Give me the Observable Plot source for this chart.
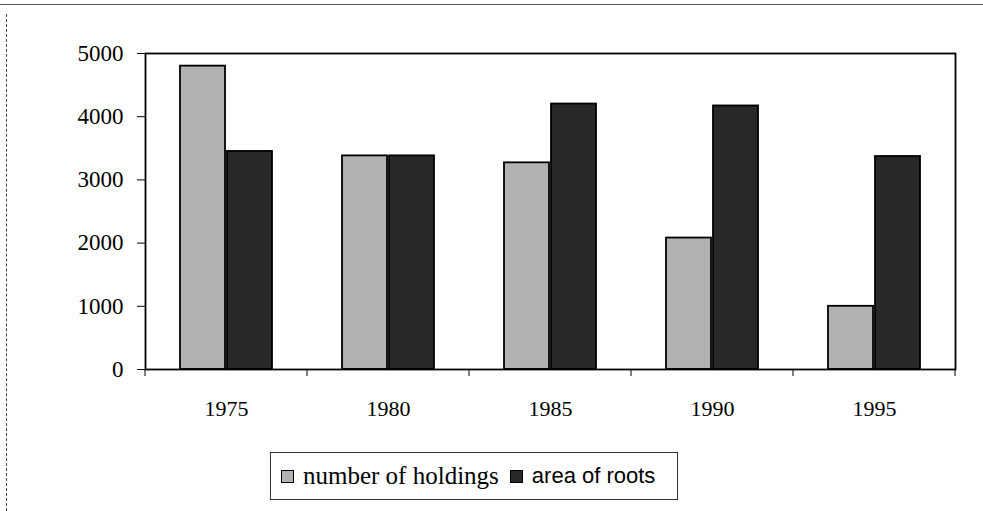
<!DOCTYPE html>
<html>
<head>
<meta charset="utf-8">
<script src="https://cdn.jsdelivr.net/npm/d3@7"></script>
<script src="https://cdn.jsdelivr.net/npm/@observablehq/plot@0.6"></script>
<style>
  html, body { margin: 0; padding: 0; background: #fff; }
  #wrap { position: relative; width: 983px; height: 511px; overflow: hidden; background: #fff; }
  #topline { position: absolute; left: 0; top: 4px; width: 983px; height: 0; border-top: 1.5px solid #555; }
  #leftline { position: absolute; left: 6px; top: 14px; width: 0; height: 497px; border-left: 1.5px dashed #444; }
  #chart { position: absolute; left: 0; top: 0; }
  #legend { position: absolute; left: 270px; top: 452px; width: 408px; height: 48px; border: 1px solid #333;
            display: flex; align-items: center; box-sizing: border-box; padding-left: 10px; white-space: nowrap; }
  .sw { display: inline-block; width: 13px; height: 13px; border: 1.5px solid #000; box-sizing: border-box; margin-right: 9px; }
  .t1 { font-family: "Liberation Serif", serif; font-size: 25px; color: #000; margin-right: 11px; }
  .t2 { font-family: "Liberation Sans", sans-serif; font-size: 22px; color: #000; }
</style>
</head>
<body>
<div id="wrap">
  <div id="topline"></div>
  <div id="leftline"></div>
  <div id="chart"></div>
  <div id="legend"></div>
</div>
<script>
const years = ["1975", "1980", "1985", "1990", "1995"];
const seriesNames = ["number of holdings", "area of roots"];
const holdings = [4800, 3380, 3270, 2080, 1000];
const areaOfRoots = [3450, 3380, 4200, 4170, 3370];
const yTicks = [0, 1000, 2000, 3000, 4000, 5000];
const colors = ["#b2b2b2", "#282828"];

const data = [];
years.forEach((yr, i) => {
  data.push({year: yr, series: seriesNames[0], value: holdings[i]});
  data.push({year: yr, series: seriesNames[1], value: areaOfRoots[i]});
});

const H = 430, MT = 53, MB = 61;
const chart = Plot.plot({
  width: 983,
  height: H,
  marginTop: MT,
  marginBottom: MB,
  marginLeft: 145,
  marginRight: 28,
  style: {fontFamily: "Liberation Serif, serif", fontSize: "22px", color: "#000", background: "transparent", overflow: "visible"},
  fx: {domain: years, padding: 0, label: null},
  x: {domain: seriesNames, paddingInner: 0.04, paddingOuter: 0.72, axis: null},
  y: {domain: [0, 5000], label: null},
  color: {domain: seriesNames, range: colors},
  marks: [
    Plot.barY(data, {fx: "year", x: "series", y: "value", fill: "series", stroke: "#000", strokeWidth: 1.8}),
    Plot.frame({stroke: "#000", strokeWidth: 1.8, facet: "super"}),
    Plot.axisY({ticks: yTicks, tickSize: 8, tickPadding: 14, fontSize: 23, tickFormat: d => String(d), label: null}),
    Plot.axisFx({anchor: "bottom", tickSize: 0, tickPadding: 31, fontSize: 22, label: null})
  ]
});
document.getElementById("chart").appendChild(chart);

// small tick marks at the category boundaries, positioned from the fx scale
const fx = chart.scale("fx");
const step = fx.step ?? fx.bandwidth;
const y0 = H - MB;
const g = d3.select(chart).append("g").attr("stroke", "#000").attr("stroke-width", 1);
const lefts = years.map(y => fx.apply(y));
lefts.push(lefts[lefts.length - 1] + step);
lefts.forEach(x => {
  g.append("line").attr("x1", x).attr("x2", x).attr("y1", y0).attr("y2", y0 + 7);
});

const legend = document.getElementById("legend");
seriesNames.forEach((name, i) => {
  const sw = document.createElement("span");
  sw.className = "sw";
  sw.style.background = colors[i];
  legend.appendChild(sw);
  const t = document.createElement("span");
  t.className = i === 0 ? "t1" : "t2";
  t.textContent = name;
  legend.appendChild(t);
});
</script>
</body>
</html>
